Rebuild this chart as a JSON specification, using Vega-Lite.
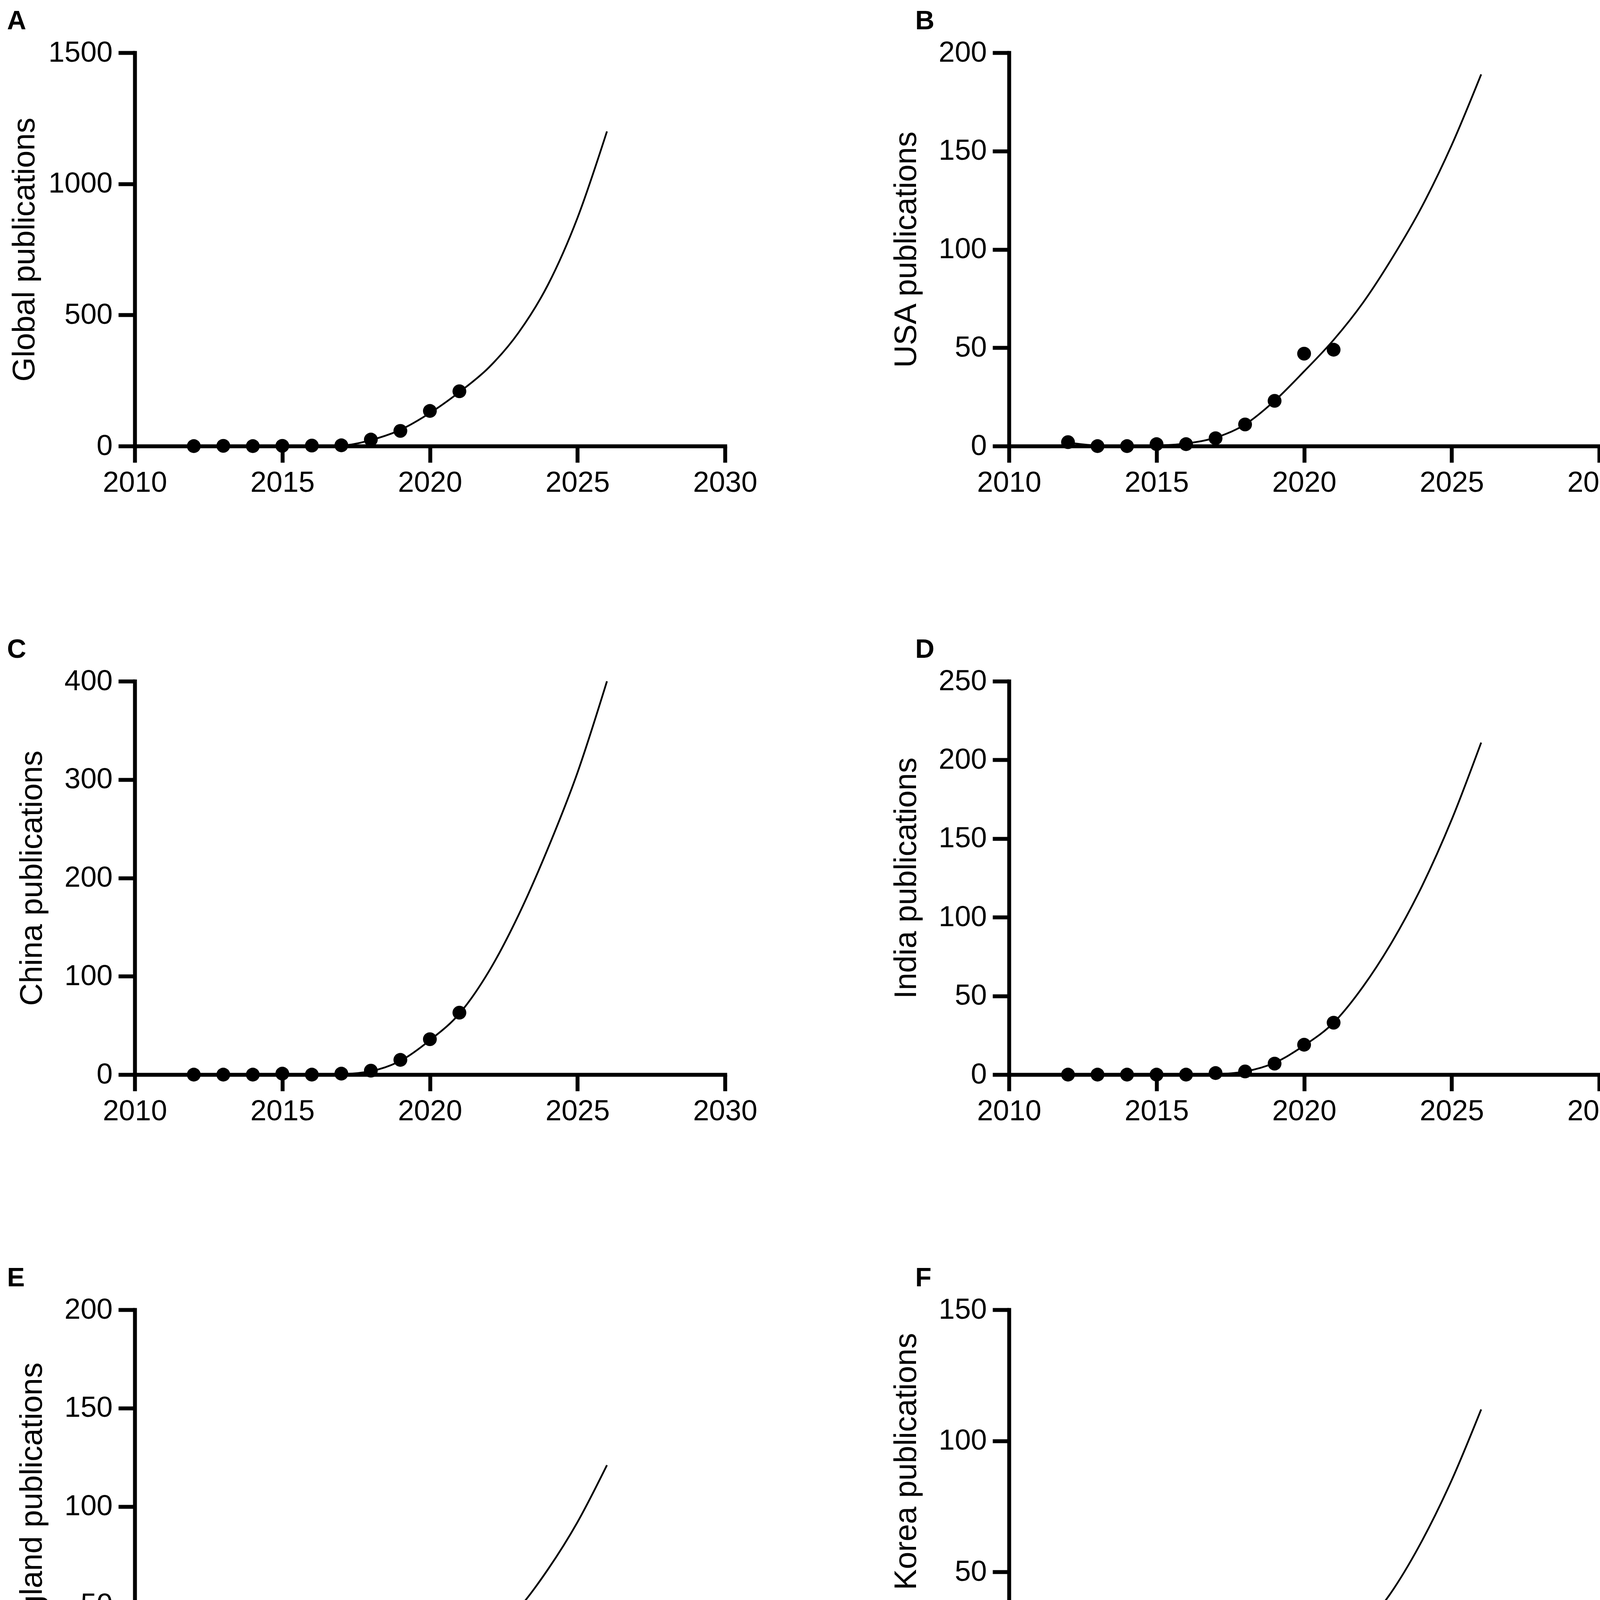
{
  "$schema": "https://vega.github.io/schema/vega-lite/v6.json",
  "background": "white",
  "padding": {"left": 18, "top": 21, "right": 0, "bottom": 0},
  "config": {
    "font": "Liberation Sans",
    "view": {"stroke": null},
    "axis": {
      "domainColor": "black", "domainWidth": 10, "domainCap": "square",
      "tickColor": "black", "tickWidth": 10, "tickSize": 42,
      "labelFont": "Liberation Sans", "labelFontSize": 74, "labelColor": "black", "labelLimit": 1000,
      "titleFont": "Liberation Sans", "titleFontSize": 80, "titleFontWeight": "normal", "titleColor": "black", "titleLimit": 2000,
      "grid": false, "labelOverlap": false, "labelFlush": false, "labelBound": false, "format": "d"
    },
    "axisX": {"labelPadding": 16},
    "axisY": {"labelPadding": 15, "titlePadding": 41},
    "title": {"font": "Liberation Sans", "fontSize": 68, "fontWeight": "bold", "anchor": "start", "frame": "group", "color": "black", "offset": 9}
  },
  "datasets": {
    "pts": [
      {"region": "Global", "year": 2012, "value": 0}, {"region": "Global", "year": 2013, "value": 1}, {"region": "Global", "year": 2014, "value": 0}, {"region": "Global", "year": 2015, "value": 1}, {"region": "Global", "year": 2016, "value": 2}, {"region": "Global", "year": 2017, "value": 3}, {"region": "Global", "year": 2018, "value": 25}, {"region": "Global", "year": 2019, "value": 58}, {"region": "Global", "year": 2020, "value": 134}, {"region": "Global", "year": 2021, "value": 209},
      {"region": "USA", "year": 2012, "value": 2}, {"region": "USA", "year": 2013, "value": 0}, {"region": "USA", "year": 2014, "value": 0}, {"region": "USA", "year": 2015, "value": 1}, {"region": "USA", "year": 2016, "value": 1}, {"region": "USA", "year": 2017, "value": 4}, {"region": "USA", "year": 2018, "value": 11}, {"region": "USA", "year": 2019, "value": 23}, {"region": "USA", "year": 2020, "value": 47}, {"region": "USA", "year": 2021, "value": 49},
      {"region": "China", "year": 2012, "value": 0}, {"region": "China", "year": 2013, "value": 0}, {"region": "China", "year": 2014, "value": 0}, {"region": "China", "year": 2015, "value": 1}, {"region": "China", "year": 2016, "value": 0}, {"region": "China", "year": 2017, "value": 1}, {"region": "China", "year": 2018, "value": 4}, {"region": "China", "year": 2019, "value": 15}, {"region": "China", "year": 2020, "value": 36}, {"region": "China", "year": 2021, "value": 63},
      {"region": "India", "year": 2012, "value": 0}, {"region": "India", "year": 2013, "value": 0}, {"region": "India", "year": 2014, "value": 0}, {"region": "India", "year": 2015, "value": 0}, {"region": "India", "year": 2016, "value": 0}, {"region": "India", "year": 2017, "value": 1}, {"region": "India", "year": 2018, "value": 2}, {"region": "India", "year": 2019, "value": 7}, {"region": "India", "year": 2020, "value": 19}, {"region": "India", "year": 2021, "value": 33},
      {"region": "England", "year": 2012, "value": 0}, {"region": "England", "year": 2013, "value": 1}, {"region": "England", "year": 2014, "value": 0}, {"region": "England", "year": 2015, "value": 0}, {"region": "England", "year": 2016, "value": 1}, {"region": "England", "year": 2017, "value": 0}, {"region": "England", "year": 2018, "value": 9}, {"region": "England", "year": 2019, "value": 5}, {"region": "England", "year": 2020, "value": 14}, {"region": "England", "year": 2021, "value": 24},
      {"region": "South Korea", "year": 2012, "value": 0}, {"region": "South Korea", "year": 2013, "value": 0}, {"region": "South Korea", "year": 2014, "value": 0}, {"region": "South Korea", "year": 2015, "value": 0}, {"region": "South Korea", "year": 2016, "value": 0}, {"region": "South Korea", "year": 2017, "value": 1}, {"region": "South Korea", "year": 2018, "value": 3}, {"region": "South Korea", "year": 2019, "value": 2}, {"region": "South Korea", "year": 2020, "value": 12}, {"region": "South Korea", "year": 2021, "value": 18}
    ],
    "fit": [
      {"region": "Global", "year": 2012, "value": 0}, {"region": "Global", "year": 2013, "value": 0}, {"region": "Global", "year": 2014, "value": 0}, {"region": "Global", "year": 2015, "value": 0}, {"region": "Global", "year": 2016, "value": 0}, {"region": "Global", "year": 2017, "value": 2}, {"region": "Global", "year": 2018, "value": 23}, {"region": "Global", "year": 2019, "value": 62}, {"region": "Global", "year": 2020, "value": 126}, {"region": "Global", "year": 2021, "value": 206}, {"region": "Global", "year": 2022, "value": 300}, {"region": "Global", "year": 2023, "value": 432}, {"region": "Global", "year": 2024, "value": 615}, {"region": "Global", "year": 2025, "value": 870}, {"region": "Global", "year": 2026, "value": 1200},
      {"region": "USA", "year": 2012, "value": 1.8}, {"region": "USA", "year": 2013, "value": 0.3}, {"region": "USA", "year": 2014, "value": 0}, {"region": "USA", "year": 2015, "value": 0.3}, {"region": "USA", "year": 2016, "value": 1.3}, {"region": "USA", "year": 2017, "value": 4.3}, {"region": "USA", "year": 2018, "value": 11}, {"region": "USA", "year": 2019, "value": 23}, {"region": "USA", "year": 2020, "value": 38}, {"region": "USA", "year": 2021, "value": 54}, {"region": "USA", "year": 2022, "value": 73}, {"region": "USA", "year": 2023, "value": 96}, {"region": "USA", "year": 2024, "value": 122}, {"region": "USA", "year": 2025, "value": 153}, {"region": "USA", "year": 2026, "value": 189},
      {"region": "China", "year": 2012, "value": 0}, {"region": "China", "year": 2013, "value": 0}, {"region": "China", "year": 2014, "value": 0}, {"region": "China", "year": 2015, "value": 0}, {"region": "China", "year": 2016, "value": 0}, {"region": "China", "year": 2017, "value": 0.5}, {"region": "China", "year": 2018, "value": 3.5}, {"region": "China", "year": 2019, "value": 14}, {"region": "China", "year": 2020, "value": 35}, {"region": "China", "year": 2021, "value": 62}, {"region": "China", "year": 2022, "value": 105}, {"region": "China", "year": 2023, "value": 162}, {"region": "China", "year": 2024, "value": 230}, {"region": "China", "year": 2025, "value": 307}, {"region": "China", "year": 2026, "value": 400},
      {"region": "India", "year": 2012, "value": 0}, {"region": "India", "year": 2013, "value": 0}, {"region": "India", "year": 2014, "value": 0}, {"region": "India", "year": 2015, "value": 0}, {"region": "India", "year": 2016, "value": 0}, {"region": "India", "year": 2017, "value": 0.3}, {"region": "India", "year": 2018, "value": 2}, {"region": "India", "year": 2019, "value": 7.5}, {"region": "India", "year": 2020, "value": 18.5}, {"region": "India", "year": 2021, "value": 33}, {"region": "India", "year": 2022, "value": 56}, {"region": "India", "year": 2023, "value": 85}, {"region": "India", "year": 2024, "value": 120}, {"region": "India", "year": 2025, "value": 162}, {"region": "India", "year": 2026, "value": 211},
      {"region": "England", "year": 2012, "value": 0}, {"region": "England", "year": 2013, "value": 0}, {"region": "England", "year": 2014, "value": 0}, {"region": "England", "year": 2015, "value": 0}, {"region": "England", "year": 2016, "value": 0.3}, {"region": "England", "year": 2017, "value": 1.2}, {"region": "England", "year": 2018, "value": 3.8}, {"region": "England", "year": 2019, "value": 7.5}, {"region": "England", "year": 2020, "value": 13.5}, {"region": "England", "year": 2021, "value": 22.5}, {"region": "England", "year": 2022, "value": 34}, {"region": "England", "year": 2023, "value": 48}, {"region": "England", "year": 2024, "value": 68}, {"region": "England", "year": 2025, "value": 92}, {"region": "England", "year": 2026, "value": 121},
      {"region": "South Korea", "year": 2012, "value": 0}, {"region": "South Korea", "year": 2013, "value": 0}, {"region": "South Korea", "year": 2014, "value": 0}, {"region": "South Korea", "year": 2015, "value": 0}, {"region": "South Korea", "year": 2016, "value": 0}, {"region": "South Korea", "year": 2017, "value": 0.2}, {"region": "South Korea", "year": 2018, "value": 1.5}, {"region": "South Korea", "year": 2019, "value": 4.7}, {"region": "South Korea", "year": 2020, "value": 10}, {"region": "South Korea", "year": 2021, "value": 18}, {"region": "South Korea", "year": 2022, "value": 28.5}, {"region": "South Korea", "year": 2023, "value": 43}, {"region": "South Korea", "year": 2024, "value": 62}, {"region": "South Korea", "year": 2025, "value": 85}, {"region": "South Korea", "year": 2026, "value": 112}
    ]
  },
  "columns": 2,
  "spacing": {"row": 357, "column": 341},
  "concat": [
    {
      "width": 1511, "height": 1007,
      "title": {"text": "A", "dx": -327},
      "encoding": {
        "x": {"field": "year", "type": "quantitative", "scale": {"domain": [2010, 2030], "nice": false}, "axis": {"values": [2010, 2015, 2020, 2025, 2030], "format": "d", "title": null}},
        "y": {"field": "value", "type": "quantitative", "scale": {"domain": [0, 1500], "nice": false}, "axis": {"values": [0, 500, 1000, 1500], "format": "d", "title": "Global publications"}}
      },
      "layer": [
        {"data": {"name": "fit"}, "transform": [{"filter": "datum.region === 'Global'"}], "mark": {"type": "line", "color": "black", "strokeWidth": 4.5, "interpolate": "monotone"}},
        {"data": {"name": "pts"}, "transform": [{"filter": "datum.region === 'Global'"}], "mark": {"type": "circle", "color": "black", "size": 1250, "opacity": 1}}
      ]
    },
    {
      "width": 1511, "height": 1007,
      "title": {"text": "B", "dx": -240},
      "encoding": {
        "x": {"field": "year", "type": "quantitative", "scale": {"domain": [2010, 2030], "nice": false}, "axis": {"values": [2010, 2015, 2020, 2025, 2030], "format": "d", "title": null}},
        "y": {"field": "value", "type": "quantitative", "scale": {"domain": [0, 200], "nice": false}, "axis": {"values": [0, 50, 100, 150, 200], "format": "d", "title": "USA publications"}}
      },
      "layer": [
        {"data": {"name": "fit"}, "transform": [{"filter": "datum.region === 'USA'"}], "mark": {"type": "line", "color": "black", "strokeWidth": 4.5, "interpolate": "monotone"}},
        {"data": {"name": "pts"}, "transform": [{"filter": "datum.region === 'USA'"}], "mark": {"type": "circle", "color": "black", "size": 1250, "opacity": 1}}
      ]
    },
    {
      "width": 1511, "height": 1007,
      "title": {"text": "C", "dx": -327},
      "encoding": {
        "x": {"field": "year", "type": "quantitative", "scale": {"domain": [2010, 2030], "nice": false}, "axis": {"values": [2010, 2015, 2020, 2025, 2030], "format": "d", "title": null}},
        "y": {"field": "value", "type": "quantitative", "scale": {"domain": [0, 400], "nice": false}, "axis": {"values": [0, 100, 200, 300, 400], "format": "d", "title": "China publications"}}
      },
      "layer": [
        {"data": {"name": "fit"}, "transform": [{"filter": "datum.region === 'China'"}], "mark": {"type": "line", "color": "black", "strokeWidth": 4.5, "interpolate": "monotone"}},
        {"data": {"name": "pts"}, "transform": [{"filter": "datum.region === 'China'"}], "mark": {"type": "circle", "color": "black", "size": 1250, "opacity": 1}}
      ]
    },
    {
      "width": 1511, "height": 1007,
      "title": {"text": "D", "dx": -240},
      "encoding": {
        "x": {"field": "year", "type": "quantitative", "scale": {"domain": [2010, 2030], "nice": false}, "axis": {"values": [2010, 2015, 2020, 2025, 2030], "format": "d", "title": null}},
        "y": {"field": "value", "type": "quantitative", "scale": {"domain": [0, 250], "nice": false}, "axis": {"values": [0, 50, 100, 150, 200, 250], "format": "d", "title": "India publications"}}
      },
      "layer": [
        {"data": {"name": "fit"}, "transform": [{"filter": "datum.region === 'India'"}], "mark": {"type": "line", "color": "black", "strokeWidth": 4.5, "interpolate": "monotone"}},
        {"data": {"name": "pts"}, "transform": [{"filter": "datum.region === 'India'"}], "mark": {"type": "circle", "color": "black", "size": 1250, "opacity": 1}}
      ]
    },
    {
      "width": 1511, "height": 1007,
      "title": {"text": "E", "dx": -327},
      "encoding": {
        "x": {"field": "year", "type": "quantitative", "scale": {"domain": [2010, 2030], "nice": false}, "axis": {"values": [2010, 2015, 2020, 2025, 2030], "format": "d", "title": null}},
        "y": {"field": "value", "type": "quantitative", "scale": {"domain": [0, 200], "nice": false}, "axis": {"values": [0, 50, 100, 150, 200], "format": "d", "title": "England publications"}}
      },
      "layer": [
        {"data": {"name": "fit"}, "transform": [{"filter": "datum.region === 'England'"}], "mark": {"type": "line", "color": "black", "strokeWidth": 4.5, "interpolate": "monotone"}},
        {"data": {"name": "pts"}, "transform": [{"filter": "datum.region === 'England'"}], "mark": {"type": "circle", "color": "black", "size": 1250, "opacity": 1}}
      ]
    },
    {
      "width": 1511, "height": 1007,
      "title": {"text": "F", "dx": -240},
      "encoding": {
        "x": {"field": "year", "type": "quantitative", "scale": {"domain": [2010, 2030], "nice": false}, "axis": {"values": [2010, 2015, 2020, 2025, 2030], "format": "d", "title": null}},
        "y": {"field": "value", "type": "quantitative", "scale": {"domain": [0, 150], "nice": false}, "axis": {"values": [0, 50, 100, 150], "format": "d", "title": "South Korea publications"}}
      },
      "layer": [
        {"data": {"name": "fit"}, "transform": [{"filter": "datum.region === 'South Korea'"}], "mark": {"type": "line", "color": "black", "strokeWidth": 4.5, "interpolate": "monotone"}},
        {"data": {"name": "pts"}, "transform": [{"filter": "datum.region === 'South Korea'"}], "mark": {"type": "circle", "color": "black", "size": 1250, "opacity": 1}}
      ]
    }
  ]
}
